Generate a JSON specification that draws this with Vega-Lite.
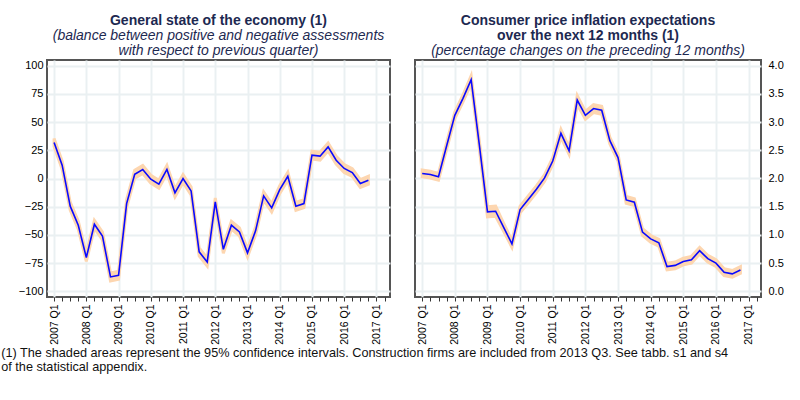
{
  "$schema": "https://vega.github.io/schema/vega-lite/v6.json",
  "padding": {"left": 1, "top": 12, "right": 5, "bottom": 5},
  "config": {
    "font": "Liberation Sans",
    "view": {"stroke": "#555555", "strokeWidth": 2},
    "axis": {"labelFont": "Liberation Sans", "labelFontSize": 11, "labelColor": "#000000", "domain": false, "gridColor": "#eaf0f2", "gridWidth": 2, "title": null}
  },
  "datasets": {
    "econ": [
      {"t": 2007.00, "v": 31.9, "lo": 28.4, "hi": 35.4},
      {"t": 2007.25, "v": 11.8, "lo": 8.3, "hi": 15.3},
      {"t": 2007.50, "v": -24.5, "lo": -28.0, "hi": -21.0},
      {"t": 2007.75, "v": -41.4, "lo": -44.9, "hi": -37.9},
      {"t": 2008.00, "v": -70, "lo": -73.5, "hi": -66.5},
      {"t": 2008.25, "v": -40.5, "lo": -44.0, "hi": -37.0},
      {"t": 2008.50, "v": -50.9, "lo": -54.4, "hi": -47.4},
      {"t": 2008.75, "v": -87.2, "lo": -90.7, "hi": -83.7},
      {"t": 2009.00, "v": -85.7, "lo": -89.2, "hi": -82.2},
      {"t": 2009.25, "v": -22.2, "lo": -25.7, "hi": -18.7},
      {"t": 2009.50, "v": 3.8, "lo": 0.3, "hi": 7.3},
      {"t": 2009.75, "v": 8.0, "lo": 4.5, "hi": 11.5},
      {"t": 2010.00, "v": -0.6, "lo": -4.1, "hi": 2.9},
      {"t": 2010.25, "v": -5, "lo": -8.5, "hi": -1.5},
      {"t": 2010.50, "v": 8, "lo": 4.5, "hi": 11.5},
      {"t": 2010.75, "v": -12.7, "lo": -16.2, "hi": -9.2},
      {"t": 2011.00, "v": 0, "lo": -3.5, "hi": 3.5},
      {"t": 2011.25, "v": -11, "lo": -14.5, "hi": -7.5},
      {"t": 2011.50, "v": -65, "lo": -68.5, "hi": -61.5},
      {"t": 2011.75, "v": -74, "lo": -77.5, "hi": -70.5},
      {"t": 2012.00, "v": -20.7, "lo": -24.2, "hi": -17.2},
      {"t": 2012.25, "v": -62.7, "lo": -66.2, "hi": -59.2},
      {"t": 2012.50, "v": -41.4, "lo": -44.9, "hi": -37.9},
      {"t": 2012.75, "v": -47.3, "lo": -50.8, "hi": -43.8},
      {"t": 2013.00, "v": -65.9, "lo": -69.4, "hi": -62.4},
      {"t": 2013.25, "v": -46.4, "lo": -49.9, "hi": -42.9},
      {"t": 2013.50, "v": -15.4, "lo": -18.9, "hi": -11.9},
      {"t": 2013.75, "v": -26, "lo": -29.5, "hi": -22.5},
      {"t": 2014.00, "v": -9.8, "lo": -13.3, "hi": -6.3},
      {"t": 2014.25, "v": 2, "lo": -1.5, "hi": 5.5},
      {"t": 2014.50, "v": -24.6, "lo": -28.1, "hi": -21.1},
      {"t": 2014.75, "v": -22.2, "lo": -25.7, "hi": -18.7},
      {"t": 2015.00, "v": 20.7, "lo": 17.2, "hi": 24.2},
      {"t": 2015.25, "v": 19.8, "lo": 16.3, "hi": 23.3},
      {"t": 2015.50, "v": 28, "lo": 24.5, "hi": 31.5},
      {"t": 2015.75, "v": 16.2, "lo": 12.7, "hi": 19.7},
      {"t": 2016.00, "v": 8.9, "lo": 5.4, "hi": 12.4},
      {"t": 2016.25, "v": 5.3, "lo": 1.8, "hi": 8.8},
      {"t": 2016.50, "v": -4.4, "lo": -7.9, "hi": -0.9},
      {"t": 2016.75, "v": -1.5, "lo": -5.0, "hi": 2.0}
    ],
    "infl": [
      {"t": 2007.00, "v": 2.09, "lo": 2.03, "hi": 2.15},
      {"t": 2007.25, "v": 2.07, "lo": 2.01, "hi": 2.13},
      {"t": 2007.50, "v": 2.03, "lo": 1.97, "hi": 2.09},
      {"t": 2007.75, "v": 2.58, "lo": 2.52, "hi": 2.64},
      {"t": 2008.00, "v": 3.12, "lo": 3.06, "hi": 3.18},
      {"t": 2008.25, "v": 3.42, "lo": 3.36, "hi": 3.48},
      {"t": 2008.50, "v": 3.75, "lo": 3.68, "hi": 3.82},
      {"t": 2008.75, "v": 2.6, "lo": 2.53, "hi": 2.67},
      {"t": 2009.00, "v": 1.41, "lo": 1.32, "hi": 1.50},
      {"t": 2009.25, "v": 1.42, "lo": 1.33, "hi": 1.51},
      {"t": 2009.50, "v": 1.13, "lo": 1.06, "hi": 1.20},
      {"t": 2009.75, "v": 0.84, "lo": 0.78, "hi": 0.90},
      {"t": 2010.00, "v": 1.45, "lo": 1.39, "hi": 1.51},
      {"t": 2010.25, "v": 1.63, "lo": 1.57, "hi": 1.69},
      {"t": 2010.50, "v": 1.81, "lo": 1.75, "hi": 1.87},
      {"t": 2010.75, "v": 2.01, "lo": 1.95, "hi": 2.07},
      {"t": 2011.00, "v": 2.31, "lo": 2.25, "hi": 2.37},
      {"t": 2011.25, "v": 2.80, "lo": 2.73, "hi": 2.87},
      {"t": 2011.50, "v": 2.49, "lo": 2.43, "hi": 2.55},
      {"t": 2011.75, "v": 3.39, "lo": 3.31, "hi": 3.47},
      {"t": 2012.00, "v": 3.12, "lo": 3.05, "hi": 3.19},
      {"t": 2012.25, "v": 3.24, "lo": 3.17, "hi": 3.31},
      {"t": 2012.50, "v": 3.21, "lo": 3.14, "hi": 3.28},
      {"t": 2012.75, "v": 2.67, "lo": 2.61, "hi": 2.73},
      {"t": 2013.00, "v": 2.37, "lo": 2.31, "hi": 2.43},
      {"t": 2013.25, "v": 1.62, "lo": 1.56, "hi": 1.68},
      {"t": 2013.50, "v": 1.58, "lo": 1.52, "hi": 1.64},
      {"t": 2013.75, "v": 1.05, "lo": 0.99, "hi": 1.11},
      {"t": 2014.00, "v": 0.93, "lo": 0.87, "hi": 0.99},
      {"t": 2014.25, "v": 0.86, "lo": 0.80, "hi": 0.92},
      {"t": 2014.50, "v": 0.44, "lo": 0.38, "hi": 0.50},
      {"t": 2014.75, "v": 0.46, "lo": 0.40, "hi": 0.52},
      {"t": 2015.00, "v": 0.53, "lo": 0.47, "hi": 0.59},
      {"t": 2015.25, "v": 0.56, "lo": 0.50, "hi": 0.62},
      {"t": 2015.50, "v": 0.72, "lo": 0.66, "hi": 0.78},
      {"t": 2015.75, "v": 0.58, "lo": 0.52, "hi": 0.64},
      {"t": 2016.00, "v": 0.50, "lo": 0.44, "hi": 0.56},
      {"t": 2016.25, "v": 0.34, "lo": 0.28, "hi": 0.40},
      {"t": 2016.50, "v": 0.31, "lo": 0.25, "hi": 0.37},
      {"t": 2016.75, "v": 0.38, "lo": 0.32, "hi": 0.44}
    ]
  },
  "title": {
    "text": ["(1) The shaded areas represent the 95% confidence intervals. Construction firms are included from 2013 Q3. See tabb. s1 and s4", "of the statistical appendix."],
    "orient": "bottom",
    "anchor": "start",
    "font": "Liberation Sans",
    "fontSize": 12.7,
    "fontWeight": "normal",
    "color": "#111111",
    "lineHeight": 14,
    "offset": 2,
    "dx": -16
  },
  "spacing": 22,
  "hconcat": [
    {
      "width": 343,
      "height": 237,
      "data": {"name": "econ"},
      "title": {
        "text": "General state of the economy (1)",
        "subtitle": ["(balance between positive and negative assessments", "with respect to previous quarter)"],
        "anchor": "middle",
        "font": "Liberation Sans",
        "fontSize": 14,
        "fontWeight": "bold",
        "color": "#1d2951",
        "lineHeight": 15,
        "subtitleFont": "Liberation Sans",
        "subtitleFontSize": 14,
        "subtitleFontStyle": "italic",
        "subtitleColor": "#1d2951",
        "subtitleLineHeight": 15,
        "subtitlePadding": 1,
        "offset": 2
      },
      "encoding": {
        "x": {
          "field": "t",
          "type": "quantitative",
          "scale": {"domain": [2006.78, 2017.42], "nice": false, "zero": false},
          "axis": {
            "values": [2007, 2007.25, 2007.5, 2007.75, 2008, 2008.25, 2008.5, 2008.75, 2009, 2009.25, 2009.5, 2009.75, 2010, 2010.25, 2010.5, 2010.75, 2011, 2011.25, 2011.5, 2011.75, 2012, 2012.25, 2012.5, 2012.75, 2013, 2013.25, 2013.5, 2013.75, 2014, 2014.25, 2014.5, 2014.75, 2015, 2015.25, 2015.5, 2015.75, 2016, 2016.25, 2016.5, 2016.75, 2017, 2017.25],
            "labelExpr": "datum.value % 1 === 0 ? format(datum.value, 'd') + ' Q1' : ''",
            "labelAngle": 270,
            "labelAlign": "right",
            "labelBaseline": "middle",
            "labelFontSize": 10.5,
            "labelOverlap": false,
            "labelFlush": false,
            "labelPadding": 3,
            "tickSize": 4,
            "tickColor": "#333333",
            "gridOpacity": {"condition": {"test": "datum.value % 1 !== 0", "value": 0}, "value": 1}
          }
        }
      },
      "layer": [
        {
          "mark": {"type": "area", "color": "#fdd6b0", "stroke": "#fdd6b0", "strokeWidth": 3, "opacity": 1},
          "encoding": {
            "y": {"field": "lo", "type": "quantitative", "scale": {"domain": [-105, 105], "nice": false, "zero": false},
              "axis": {"values": [-100, -75, -50, -25, 0, 25, 50, 75, 100], "ticks": false, "labelPadding": 4, "labelOverlap": false, "labelFlush": false}},
            "y2": {"field": "hi"}
          }
        },
        {
          "mark": {"type": "line", "color": "#0a0aff", "strokeWidth": 1.6},
          "encoding": {
            "y": {"field": "v", "type": "quantitative", "scale": {"domain": [-105, 105], "nice": false, "zero": false},
              "axis": {"values": [-100, -75, -50, -25, 0, 25, 50, 75, 100], "ticks": false, "labelPadding": 4, "labelOverlap": false, "labelFlush": false}}
          }
        }
      ]
    },
    {
      "width": 346,
      "height": 237,
      "data": {"name": "infl"},
      "title": {
        "text": ["Consumer price inflation expectations", "over the next 12 months (1)"],
        "subtitle": "(percentage changes on the preceding 12 months)",
        "anchor": "middle",
        "font": "Liberation Sans",
        "fontSize": 14,
        "fontWeight": "bold",
        "color": "#1d2951",
        "lineHeight": 15,
        "subtitleFont": "Liberation Sans",
        "subtitleFontSize": 14,
        "subtitleFontStyle": "italic",
        "subtitleColor": "#1d2951",
        "subtitleLineHeight": 15,
        "subtitlePadding": 1,
        "offset": 2
      },
      "encoding": {
        "x": {
          "field": "t",
          "type": "quantitative",
          "scale": {"domain": [2006.78, 2017.38], "nice": false, "zero": false},
          "axis": {
            "values": [2007, 2007.25, 2007.5, 2007.75, 2008, 2008.25, 2008.5, 2008.75, 2009, 2009.25, 2009.5, 2009.75, 2010, 2010.25, 2010.5, 2010.75, 2011, 2011.25, 2011.5, 2011.75, 2012, 2012.25, 2012.5, 2012.75, 2013, 2013.25, 2013.5, 2013.75, 2014, 2014.25, 2014.5, 2014.75, 2015, 2015.25, 2015.5, 2015.75, 2016, 2016.25, 2016.5, 2016.75, 2017, 2017.25],
            "labelExpr": "datum.value % 1 === 0 ? format(datum.value, 'd') + ' Q1' : ''",
            "labelAngle": 270,
            "labelAlign": "right",
            "labelBaseline": "middle",
            "labelFontSize": 10.5,
            "labelOverlap": false,
            "labelFlush": false,
            "labelPadding": 3,
            "tickSize": 4,
            "tickColor": "#333333",
            "gridOpacity": {"condition": {"test": "datum.value % 1 !== 0", "value": 0}, "value": 1}
          }
        }
      },
      "layer": [
        {
          "mark": {"type": "area", "color": "#fdd6b0", "stroke": "#fdd6b0", "strokeWidth": 3, "opacity": 1},
          "encoding": {
            "y": {"field": "lo", "type": "quantitative", "scale": {"domain": [-0.1, 4.1], "nice": false, "zero": false},
              "axis": {"orient": "right", "values": [0, 0.5, 1, 1.5, 2, 2.5, 3, 3.5, 4], "format": ".1f", "ticks": false, "labelPadding": 7, "labelOverlap": false, "labelFlush": false}},
            "y2": {"field": "hi"}
          }
        },
        {
          "mark": {"type": "line", "color": "#0a0aff", "strokeWidth": 1.6},
          "encoding": {
            "y": {"field": "v", "type": "quantitative", "scale": {"domain": [-0.1, 4.1], "nice": false, "zero": false},
              "axis": {"orient": "right", "values": [0, 0.5, 1, 1.5, 2, 2.5, 3, 3.5, 4], "format": ".1f", "ticks": false, "labelPadding": 7, "labelOverlap": false, "labelFlush": false}}
          }
        }
      ]
    }
  ]
}
